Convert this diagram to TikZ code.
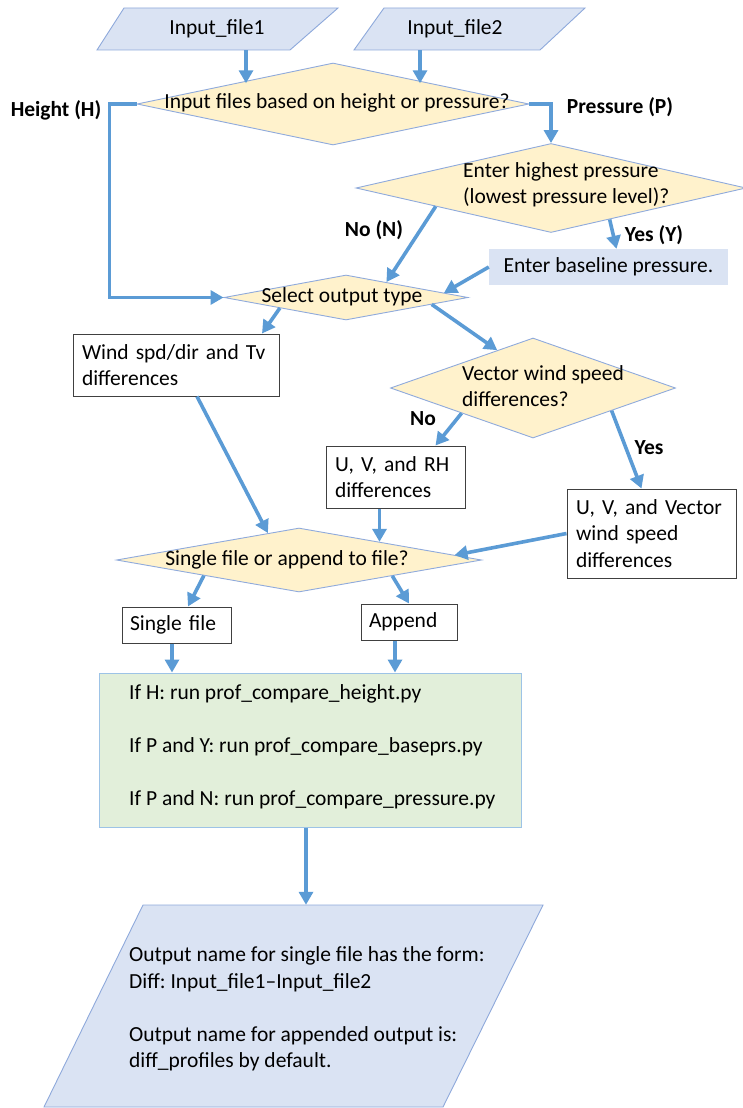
\documentclass[tikz,border=0pt]{standalone}
\usepackage{fontspec}
\setmainfont{Carlito}
\usetikzlibrary{shapes.geometric,arrows.meta,calc}
\definecolor{arrowblue}{HTML}{5B9BD5}
\definecolor{parafill}{HTML}{DAE3F3}
\definecolor{paraline}{HTML}{8EA9DB}
\definecolor{decfill}{HTML}{FFF2CC}
\definecolor{decline}{HTML}{8FAADC}
\definecolor{greenfill}{HTML}{E2EFDA}
\definecolor{greenline}{HTML}{9DC3E6}
\definecolor{boxline}{HTML}{404040}
\begin{document}
\frenchspacing
\begin{tikzpicture}[x=1pt,y=-1pt,
  every node/.style={font=\fontsize{21.5}{26.5}\selectfont, inner sep=0pt},
  arr/.style={draw=arrowblue, line width=3.6pt, -{Triangle[length=13pt,width=14pt]}},
  para/.style={draw=paraline, fill=parafill, line width=0.9pt},
  dec/.style={diamond, draw=decline, fill=decfill, line width=0.9pt, inner sep=0pt},
  box/.style={rectangle, draw=boxline, fill=white, line width=1pt, inner xsep=9pt, align=left},
  lbl/.style={font=\fontsize{21.5}{26.5}\selectfont\bfseries}
]
\useasboundingbox (0,0) rectangle (743,1108);

% input parallelograms
\draw[para] (124,8) -- (338,8) -- (290,50) -- (97,50) -- cycle;
\node[minimum height=42pt] (in1) at (217,29) {Input\_file1};
\draw[para] (384,8) -- (585,8) -- (540,50) -- (354,50) -- cycle;
\node[minimum height=42pt] (in2) at (455,29) {Input\_file2};

% decision 1
\node[dec, minimum width=392pt, minimum height=82pt] (d1) at (333,104) {};
\node (d1t) at (337,103) {Input files based on height or pressure?};

% decision 2
\node[dec, minimum width=390pt, minimum height=89pt] (d2) at (551,188) {};
\node[align=left, anchor=west] (d2t) at (463,185) {Enter highest pressure\\(lowest pressure level)?};

% baseline box
\node[fill=parafill, minimum width=239pt, minimum height=36pt] (bp) at (608.5,267) {Enter baseline pressure.};

% decision 3
\node[dec, minimum width=244pt, minimum height=45pt] (d3) at (346,297.5) {};
\node (d3t) at (342,297) {Select output type};

% wind box
\node[box, text width=188pt, minimum height=62pt] (wind) at (176,365) {Wind spd/dir and Tv\\differences};

% decision 4
\node[dec, minimum width=285pt, minimum height=100pt] (d4) at (533,388) {};
\node[align=left, anchor=west] (d4t) at (462,386) {Vector wind speed\\differences?};

% result boxes
\node[box, text width=121pt, minimum height=62pt] (uvrh) at (395.5,477) {U, V, and RH\\differences};
\node[box, text width=151pt, minimum height=89pt] (uvv) at (651.5,533.5) {U, V, and Vector\\wind speed\\differences};

% decision 5
\node[dec, minimum width=365pt, minimum height=64pt] (d5) at (299,560) {};
\node (d5t) at (287,560) {Single file or append to file?};

% single / append
\node[box, inner xsep=8pt, text width=93pt, minimum height=36pt] (single) at (176.5,625) {Single file};
\node[box, inner xsep=8pt, text width=80pt, minimum height=36pt] (append) at (409,622) {Append};

% green box
\node[rectangle, draw=greenline, fill=greenfill, line width=1pt, minimum width=422pt, minimum height=154pt] (green) at (310,750) {};
\node[align=left, anchor=west] (greent) at (129,746.5)
  {If H: run prof\_compare\_height.py\\[26.5pt]If P and Y: run prof\_compare\_baseprs.py\\[26.5pt]If P and N: run prof\_compare\_pressure.py};

% output parallelogram
\draw[para] (143,905) -- (543,905) -- (443,1107) -- (44,1107) -- cycle;
\node[minimum width=400pt, minimum height=208pt] (out) at (306,1009) {};
\node[align=left, anchor=west] (outt) at (129,1009)
  {Output name for single file has the form:\\Diff: Input\_file1--Input\_file2\\[26.5pt]Output name for appended output is:\\diff\_profiles by default.};

% labels
\node[lbl] (lh) at (56,110) {Height (H)};
\node[lbl] (lp) at (620,107) {Pressure (P)};
\node[lbl] (ln) at (374,230) {No (N)};
\node[lbl] (ly) at (654,235) {Yes (Y)};
\node[lbl] (ln2) at (423,419) {No};
\node[lbl] (ly2) at (649,448) {Yes};

% connectors
\draw[arr] ([xshift=29pt]in1.south) -- ([xshift=29pt]in1.south |- d1.north west);
\draw[arr] ([xshift=-35pt]in2.south) -- ([xshift=-35pt]in2.south |- d1.north east);
\draw[arr] (d1.west) -- ++(-27,0) |- (d3.west);
\draw[arr] (d1.east) -| (d2.north);
\draw[arr] ($(d2.west)!0.41!(d2.south)$) -- ($(d3.north)!0.33!(d3.east)$);
\draw[arr] ($(d2.south)!0.3!(d2.east)$) -- ([xshift=8pt]bp.north);
\draw[arr] (bp.west) -- ($(d3.north)!0.8!(d3.east)$);
\draw[arr] ($(d3.west)!0.46!(d3.south)$) -- ([xshift=86pt]wind.north);
\draw[arr] ($(d3.south)!0.7!(d3.east)$) -- ($(d4.west)!0.75!(d4.north)$);
\draw[arr] ($(d4.west)!0.5!(d4.south)$) -- ([xshift=40pt]uvrh.north);
\draw[arr] ($(d4.south)!0.55!(d4.east)$) -- ([xshift=-10pt]uvv.north);
\draw[arr] ([xshift=21pt]wind.south) -- ($(d5.west)!0.83!(d5.north)$);
\coordinate (e1) at ($(d5.north)!0.44!(d5.east)$);
\draw[arr] (uvrh.south -| e1) -- (e1);
\draw[arr] (uvv.west) -- ($(d5.north)!0.85!(d5.east)$);
\draw[arr] ($(d5.west)!0.48!(d5.south)$) -- ([xshift=11.5pt]single.north);
\draw[arr] ($(d5.south)!0.51!(d5.east)$) -- (append.north);
\draw[arr] ([xshift=-4.5pt]single.south) -- ([xshift=-4.5pt]single.south |- green.north);
\draw[arr] ([xshift=-14pt]append.south) -- ([xshift=-14pt]append.south |- green.north);
\draw[arr] (green.south -| out.north) -- (out.north);
\end{tikzpicture}
\end{document}
